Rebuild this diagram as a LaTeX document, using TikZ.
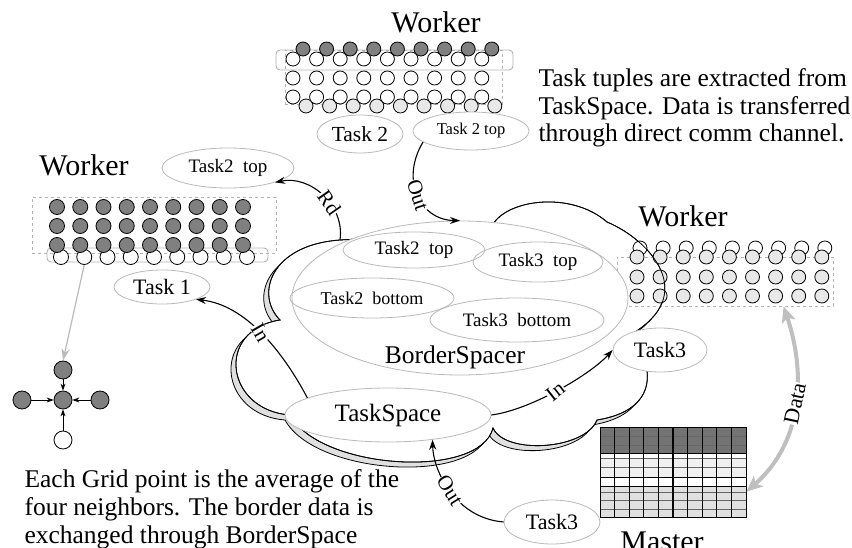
\documentclass[tikz,border=0pt]{standalone}
\usepackage{fontspec}
\setmainfont{Liberation Serif}
\usetikzlibrary{shapes.geometric, arrows.meta, positioning}

\begin{document}
\begin{tikzpicture}[
        x=1pt, y=-1pt,
        cell/.style={circle, draw, line width=0.8pt, inner sep=0pt, minimum size=14pt},
        dark/.style={fill=black!50},
        light/.style={fill=black!9},
        blank/.style={fill=white},
        taskel/.style={ellipse, draw=gray!55, line width=0.8pt, fill=white, inner sep=0pt},
        block/.style={draw=gray!60, dashed, line width=0.7pt, inner sep=0pt},
        ghostrow/.style={draw=gray!60, rounded corners=4pt, line width=0.9pt, inner sep=0pt},
        flow/.style={-{Stealth[length=10pt, width=7pt]}, line width=1.1pt},
        flowlbl/.style={fill=white, inner sep=0.5pt, font=\fontsize{21}{21}\selectfont},
        title/.style={font=\fontsize{30}{30}\selectfont, anchor=base},
        note/.style={font=\fontsize{25.5}{27.5}\selectfont, align=left, anchor=base west},
        cloudshape/.pic={
            \path[pic actions] (340,240) .. controls (380,238) and (450,232) .. (492,226)
                .. controls (505,200) and (570,190) .. (607,222)
                .. controls (650,240) and (700,295) .. (630,335)
                .. controls (655,365) and (660,410) .. (597,420)
                .. controls (585,450) and (505,455) .. (493,428)
                .. controls (480,480) and (320,470) .. (290,415)
                .. controls (225,410) and (215,330) .. (280,320)
                .. controls (255,295) and (270,245) .. (340,240) -- cycle;
        }
    ]
    \useasboundingbox (0,0) rectangle (852,548);

    % Cloud with its shadow
    \pic[draw, fill=black!12, line width=0.8pt] at (-5,5) {cloudshape};
    \pic[draw, fill=white, line width=0.8pt] at (0,0) {cloudshape};

    % Top worker
    \node[title] (tworker) at (436,33) {Worker};
    \node[ghostrow, minimum width=237pt, minimum height=20pt] (tghost) at (394.5,60) {};
    \node[block, minimum width=217pt, minimum height=54pt] (tbox) at (393.5,77) {};
    \foreach \c in {0,...,8} {
        \node[cell, dark] (tg-0-\c) at ({303+23.6*\c},49) {};
        \node[cell, light] (tg-4-\c) at ({306+23.6*\c},106) {};
    }
    \foreach \r/\y in {1/59, 2/78, 3/97}
        \foreach \c in {0,...,8}
            \node[cell, blank] (tg-\r-\c) at ({293+23.6*\c},\y) {};

    % Left worker
    \node[title] (lworker) at (84,176) {Worker};
    \node[ghostrow, minimum width=221pt, minimum height=14pt] (lghost) at (157.5,255) {};
    \node[block, minimum width=244pt, minimum height=56pt] (lbox) at (154,225) {};
    \foreach \c in {0,...,8}
        \node[cell, blank, minimum size=15pt] (lgh-\c) at ({61+23.25*\c},257) {};
    \foreach \r/\y in {1/207, 2/226, 3/245}
        \foreach \c in {0,...,8}
            \node[cell, dark, minimum size=15pt] (lg-\r-\c) at ({57+23.25*\c},\y) {};

    % Right worker
    \node[title] (rworker) at (683,227) {Worker};
    \node[block, minimum width=216pt, minimum height=49pt] (rbox) at (725,281.5) {};
    \foreach \c in {0,...,8}
        \node[cell, blank] (rg-0-\c) at ({640+23.1*\c},248) {};
    \foreach \r/\y in {1/257, 2/277, 3/296}
        \foreach \c in {0,...,8}
            \node[cell, light] (rg-\r-\c) at ({637+23.1*\c},\y) {};

    % cloud outline over the grid
    \pic[draw, line width=0.8pt] at (0,0) {cloudshape};

    % Spaces
    \node[taskel, minimum width=336pt, minimum height=154pt] (bspace) at (460,298) {};
    \node[taskel, fill=none, minimum width=142pt, minimum height=36pt, font=\fontsize{19}{19}\selectfont] (bstwotop) at (414,250) {Task2\ \ top};
    \node[taskel, fill=none, minimum width=130pt, minimum height=40pt, font=\fontsize{19}{19}\selectfont] (bsthreetop) at (538,262) {Task3\ \ top};
    \node[taskel, fill=none, minimum width=164pt, minimum height=40pt, font=\fontsize{18}{18}\selectfont] (bstwobot) at (372,298) {Task2\ \ bottom};
    \node[taskel, fill=none, minimum width=174pt, minimum height=44pt, font=\fontsize{19}{19}\selectfont] (bsthreebot) at (517,320) {Task3\ \ bottom};
    \node[font=\fontsize{25.5}{25.5}\selectfont, anchor=base] (bstext) at (455,363) {BorderSpacer};
    \node[taskel, minimum width=206pt, minimum height=54pt, font=\fontsize{25}{25}\selectfont] (tspace) at (388,415) {TaskSpace};

    % Tasks
    \node[taskel, minimum width=86pt, minimum height=38pt, font=\fontsize{21.5}{21.5}\selectfont] (tasktwo) at (360,134) {Task 2};
    \node[taskel, minimum width=116pt, minimum height=38pt, font=\fontsize{16.5}{16.5}\selectfont] (tasktwotop) at (471,131) {Task 2 top};
    \node[taskel, minimum width=132pt, minimum height=40pt, font=\fontsize{19}{19}\selectfont] (lefttop) at (228,168) {Task2\ \ top};
    \node[taskel, minimum width=96pt, minimum height=34pt, font=\fontsize{22}{22}\selectfont] (taskone) at (162,287) {Task 1};
    \node[taskel, minimum width=94pt, minimum height=44pt, font=\fontsize{22}{22}\selectfont] (taskthreer) at (660,350) {Task3};
    \node[taskel, minimum width=96pt, minimum height=44pt, font=\fontsize{22}{22}\selectfont] (taskthreeb) at (552,522) {Task3};

    % Arrows
    \coordinate (cloudtl) at (340,240);
    \draw[flow] (cloudtl) .. controls (345,205) and (310,175) .. node[flowlbl, pos=.4, rotate=-55] {Rd} (lefttop.-17);
    \draw[flow] (tasktwotop.193) .. controls (400,180) and (420,220) .. node[flowlbl, pos=.5, rotate=-72] {Out} (bspace.north);
    \draw[flow] (tspace.168) .. controls (282,350) and (245,305) .. node[flowlbl, pos=.5, rotate=-60] {In} (taskone.-20);
    \draw[flow] (tspace.east) .. controls (530,410) and (590,375) .. node[flowlbl, pos=.48, rotate=38] {In} (taskthreer.west);
    \draw[flow] (taskthreeb.west) .. controls (455,518) and (433,470) .. node[flowlbl, pos=.5, rotate=-58] {Out} (tspace.-29);

    % Master grid
    \fill[black!55] (600,427) rectangle (746,453);
    \fill[black!6] (600,458) rectangle (746,477);
    \fill[black!12] (600,486) rectangle (746,517);
    \foreach \y in {436,445,458,467,492,500,509}
        \draw[black!60, line width=0.5pt] (600,\y) -- (746,\y);
    \foreach \y in {453,477,486}
        \draw[line width=1pt] (600,\y) -- (746,\y);
    \foreach \k in {1,...,9}
        \draw[line width=1.1pt] ({600+14.6*\k},427) -- ({600+14.6*\k},517);
    \node[draw, line width=1pt, minimum width=146pt, minimum height=90pt, inner sep=0pt] (master) at (673,472) {};
    \node[font=\fontsize{30}{30}\selectfont, anchor=base] (mlabel) at (662,551) {Master};

    % Data link
    \draw[black!25, line width=4pt, {Stealth[length=16pt, width=14pt, inset=4pt]}-{Stealth[length=16pt, width=14pt, inset=4pt]}]
        (rbox.-23) .. controls (805,370) and (805,440) .. node[pos=.5, rotate=78, fill=white, inner sep=0.5pt, text=black, font=\fontsize{22}{22}\selectfont] {Data} (master.-15);

    % Stencil
    \node[cell, dark, minimum size=18pt] (sc) at (63,400) {};
    \node[cell, dark, minimum size=18pt] (sn) at (63,370) {};
    \node[cell, dark, minimum size=18pt] (sw) at (22,400) {};
    \node[cell, dark, minimum size=18pt] (se) at (100,400) {};
    \node[cell, blank, minimum size=18pt] (ss) at (63,440) {};
    \foreach \n in {sn, sw, se, ss}
        \draw[-{Stealth[length=7pt, width=5pt]}, line width=0.8pt] (\n) -- (sc);
    \draw[gray!55, line width=1.2pt, -{Stealth[length=12pt, width=8pt]}] (lgh-1.south) -- (sn.north);

    % Notes
    \node[note] (tasknote) at (535,142) {Task tuples are extracted from\\TaskSpace. Data is transferred\\through direct comm channel.};
    \node[note, font=\fontsize{25.5}{28}\selectfont] (gridnote) at (21,543) {Each Grid point is the average of the\\four neighbors. The border data is\\exchanged through BorderSpace};

\end{tikzpicture}
\end{document}
